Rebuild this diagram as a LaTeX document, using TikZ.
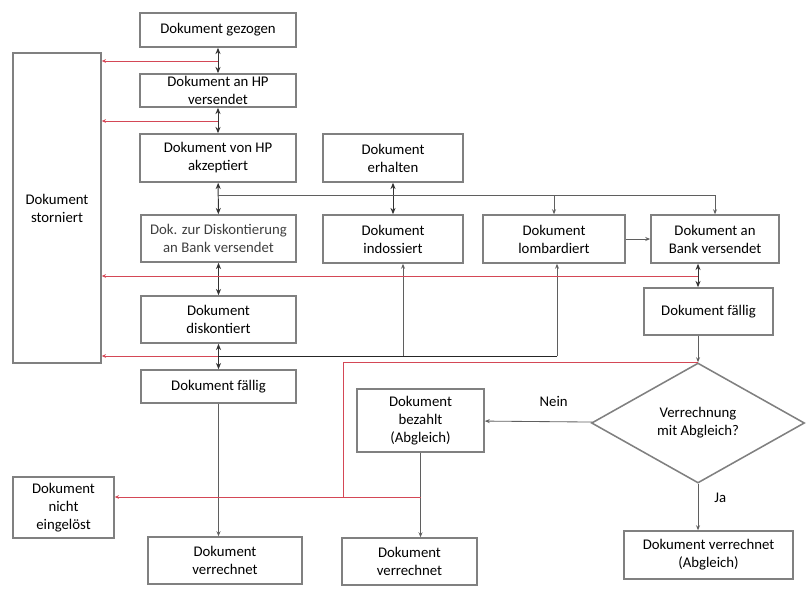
\documentclass[tikz,border=0pt]{standalone}
\usepackage{fontspec}
\setmainfont{Carlito}
\usetikzlibrary{shapes.geometric,arrows.meta,calc}

\definecolor{boxgray}{RGB}{128,128,128}
\definecolor{linegray}{RGB}{95,95,95}
\definecolor{stornored}{RGB}{212,72,86}

\begin{document}
\begin{tikzpicture}[x=0.025cm, y=-0.025cm,
  box/.style={rectangle, draw=boxgray, line width=1.1pt, align=center, inner xsep=1pt, inner ysep=0pt,
    font=\fontsize{10.5}{12.8}\selectfont},
  dia/.style={diamond, draw=boxgray, line width=1.1pt, align=center, inner sep=1pt,
    font=\fontsize{10.5}{12.8}\selectfont},
  arr/.style={-{Stealth[length=3.5pt,width=2.8pt]}, draw=linegray, line width=0.6pt},
  darr/.style={{Stealth[length=4.5pt,width=3.6pt]}-{Stealth[length=4.5pt,width=3.6pt]}, draw=black!80, line width=0.7pt},
  plain/.style={draw=black!85, line width=0.6pt},
  stornoline/.style={-{Stealth[length=3pt,width=2.6pt]}, draw=stornored, line width=0.6pt},
  lbl/.style={font=\fontsize{10.5}{12.8}\selectfont}]
  \useasboundingbox (0,0) rectangle (806,605);
  % Nodes
  \node (gez) [box, minimum width=3.9cm, minimum height=0.85cm] at (218, 30) {Dokument gezogen};
  \node (anhp) [box, minimum width=3.9cm, minimum height=0.825cm] at (218, 90.5) {Dokument an HP\\versendet};
  \node (akz) [box, minimum width=3.9cm, minimum height=1.2cm] at (218, 158) {Dokument von HP\\akzeptiert};
  \node (stor) [box, minimum width=2.2cm, minimum height=7.75cm] at (57, 208) {Dokument\\storniert};
  \node (diskvers) [box, minimum width=3.875cm, minimum height=1.175cm, text=black!75] at (218.5, 238.5) {Dok. zur Diskontierung\\an Bank versendet};
  \node (erh) [box, minimum width=3.5cm, minimum height=1.2cm] at (393, 158) {Dokument\\erhalten};
  \node (indo) [box, minimum width=3.5cm, minimum height=1.2cm] at (393, 239) {Dokument\\indossiert};
  \node (lomb) [box, minimum width=3.55cm, minimum height=1.2cm] at (554, 239) {Dokument\\lombardiert};
  \node (bank) [box, minimum width=3.2cm, minimum height=1.2cm] at (715, 239) {Dokument an\\Bank versendet};
  \node (faellB) [box, minimum width=3.225cm, minimum height=1.175cm] at (708.5, 311.5) {Dokument fällig};
  \node (disk) [box, minimum width=3.875cm, minimum height=1.175cm] at (218.5, 319.5) {Dokument\\diskontiert};
  \node (faellA) [box, minimum width=3.875cm, minimum height=0.825cm] at (218.5, 386.5) {Dokument fällig};
  \node (verA) [box, minimum width=3.85cm, minimum height=1.175cm] at (225, 560.5) {Dokument\\verrechnet};
  \node (abgl) [dia, minimum width=5.325cm, minimum height=3cm] at (698, 423) {Verrechnung\\mit Abgleich?};
  \node (bez) [box, minimum width=3.175cm, minimum height=1.575cm] at (420.5, 420.5) {Dokument\\bezahlt\\(Abgleich)};
  \node (verB) [box, minimum width=3.375cm, minimum height=1.175cm] at (409.5, 561.5) {Dokument\\verrechnet};
  \node (nicht) [box, minimum width=2.525cm, minimum height=1.525cm] at (63.5, 507.5) {Dokument\\nicht\\eingelöst};
  \node (verC) [box, minimum width=4.225cm, minimum height=1.2cm] at (708.5, 555) {Dokument verrechnet\\(Abgleich)};
  % Junctions
  \coordinate (s1) at (218, 61);
  \coordinate (s2) at (218, 121);
  \coordinate (j1) at (218, 195);
  \coordinate (s3) at (698, 276);
  \coordinate (j2) at (218, 356);
  \coordinate (j3) at (403, 356);
  \coordinate (j4) at (557, 356);
  \coordinate (k1) at (343, 497);
  % Arrows
  \draw[darr] (gez) -- (anhp);
  \draw[darr] (anhp) -- (akz);
  \draw[darr] (akz) -- (diskvers);
  \draw[darr] (erh) -- (indo);
  \draw[darr] (diskvers) -- (disk);
  \draw[darr] (disk) -- (faellA);
  \draw[darr] (abgl.north |- bank.south) -- (abgl.north |- faellB.north);
  \draw[arr] (j1) -| (bank.north);
  \draw[arr] (j1 -| lomb.north) -- (lomb.north);
  \draw[arr] (lomb) -- (bank);
  \draw[plain] (j2) -- (j4);
  \draw[arr] (j3) -- (j3 |- indo.south);
  \draw[arr] (j4) -- (j4 |- lomb.south);
  \draw[arr] (faellA.south) -- (faellA.south |- verA.north);
  \draw[arr] (abgl.north |- faellB.south) -- (abgl.north);
  \draw[arr] (abgl) -- (bez) node[lbl, pos=0.36, above=7pt] {Nein};
  \draw[arr] (abgl.south) -- (abgl.south |- verC.north) node[lbl, pos=0.3, right=8pt] {Ja};
  \draw[arr] (bez.south) -- (bez.south |- verB.north);
  % Storno lines
  \draw[stornoline] (s1) -- (s1 -| stor.east);
  \draw[stornoline] (s2) -- (s2 -| stor.east);
  \draw[stornoline] (s3) -- (s3 -| stor.east);
  \draw[stornoline] (j2) -- (j2 -| stor.east);
  \draw[stornoline, -] (abgl.north) -| (k1);
  \draw[stornoline] (bez.south |- k1) -- (bez.south |- k1 -| nicht.east);
\end{tikzpicture}
\end{document}
